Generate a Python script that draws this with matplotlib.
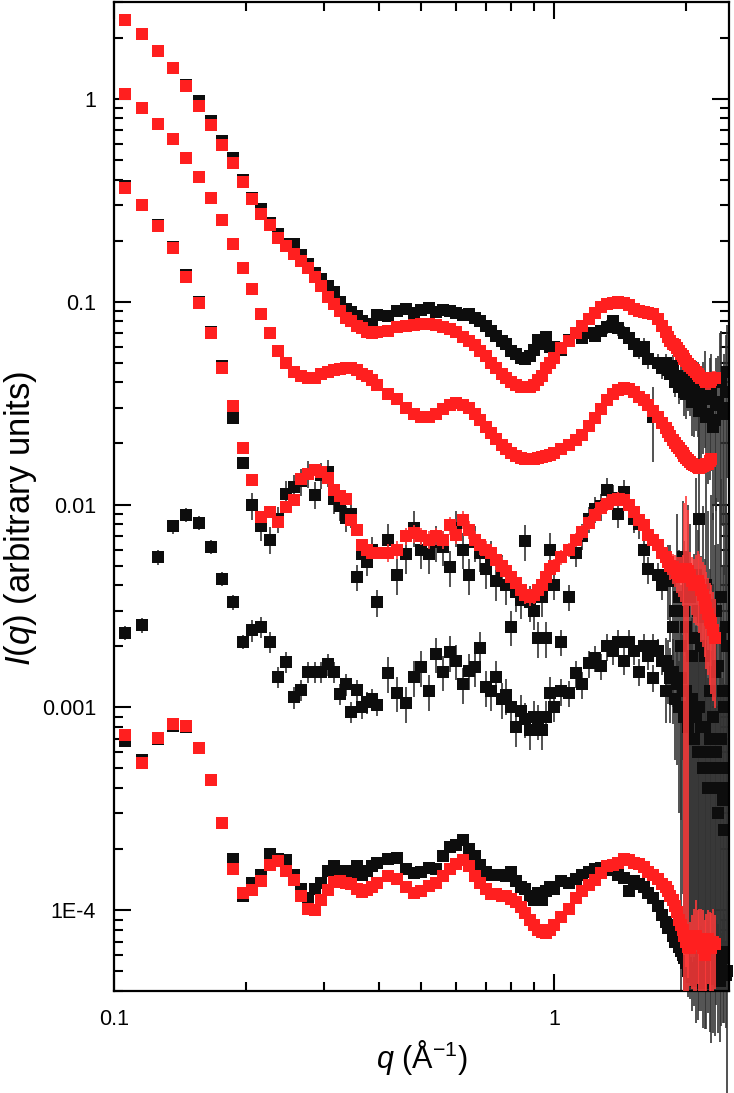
import matplotlib
matplotlib.use('Agg')

import matplotlib.pyplot as plt
import matplotlib.ticker as mticker
import numpy as np

plt.rcParams['font.family'] = ['Liberation Sans', 'DejaVu Sans']
plt.rcParams['mathtext.fontset'] = 'custom'
plt.rcParams['mathtext.rm'] = 'Liberation Sans'
plt.rcParams['mathtext.it'] = 'Liberation Sans:italic'

nan = np.nan

# scattering vector q (1/A), shared by all curves
q = [0.106, 0.116, 0.126, 0.136, 0.146, 0.156, 0.166, 0.176, 0.186, 0.196,
     0.206, 0.216, 0.226, 0.236, 0.246, 0.256, 0.266, 0.276, 0.286, 0.296,
     0.306, 0.316, 0.326, 0.336, 0.346, 0.356, 0.366, 0.376, 0.386, 0.396,
     0.42, 0.44, 0.46, 0.48, 0.50, 0.52, 0.54, 0.56, 0.58, 0.60,
     0.62, 0.64, 0.66, 0.68, 0.70, 0.72, 0.74, 0.76, 0.78, 0.80,
     0.82, 0.84, 0.86, 0.88, 0.90, 0.92, 0.94, 0.96, 0.98,
     1.00, 1.04, 1.08, 1.12, 1.16, 1.20, 1.24, 1.28, 1.32, 1.36,
     1.40, 1.44, 1.48, 1.52, 1.56, 1.60, 1.64, 1.68, 1.72, 1.76,
     1.80, 1.82, 1.84, 1.86, 1.88, 1.90, 1.92, 1.94, 1.96, 1.98,
     2.00, 2.02, 2.04, 2.06, 2.08, 2.10, 2.12, 2.14, 2.16, 2.18,
     2.20, 2.22, 2.24, 2.26, 2.28, 2.30, 2.32, 2.34, 2.36, 2.38,
     2.40, 2.42, 2.44, 2.46, 2.48]

# top pair
top_black = [2.45, 2.08, 1.72, 1.42, 1.17, 0.98, 0.78, 0.62, 0.51, 0.40,
             0.325, 0.287, 0.245, 0.216, 0.193, 0.193, 0.169, 0.154, 0.139, 0.130,
             0.120, 0.111, 0.100, 0.092, 0.089, 0.085, 0.080, 0.078, 0.078, 0.086,
             0.085, 0.090, 0.092, 0.088, 0.091, 0.093, 0.089, 0.091, 0.090, 0.088,
             0.086, 0.087, 0.083, 0.080, 0.076, 0.072, 0.068, 0.064, 0.062, 0.057,
             0.055, 0.053, 0.052, 0.054, 0.058, 0.065, 0.062, 0.067, 0.060,
             0.060, 0.058, 0.065, 0.070, 0.066, 0.070, 0.068, 0.072, 0.075, 0.080,
             0.074, 0.070, 0.066, 0.062, 0.057, 0.060, 0.052, 0.027, 0.050, 0.047,
             0.050, 0.046, 0.044, 0.048, 0.040, 0.043, 0.038, 0.041, 0.042, 0.036,
             0.035, 0.040, 0.039, 0.032, 0.033, 0.037, 0.036, 0.029, 0.030, 0.034,
             0.038, 0.027, 0.028, 0.033, 0.035, 0.024, 0.026, 0.031, 0.032, 0.040,
             0.040, 0.028, 0.030, 0.036, 0.045]
top_red = [2.45, 2.09, 1.72, 1.42, 1.15, 0.92, 0.74, 0.59, 0.48, 0.39,
           0.32, 0.27, 0.24, 0.207, 0.187, 0.172, 0.159, 0.146, 0.133, 0.120,
           0.105, 0.097, 0.090, 0.083, 0.080, 0.076, 0.074, 0.071, 0.070, 0.071,
           0.072, 0.075, 0.076, 0.077, 0.078, 0.078, 0.077, 0.075, 0.073, 0.071,
           0.067, 0.064, 0.061, 0.057, 0.054, 0.050, 0.047, 0.044, 0.042, 0.040,
           0.039, 0.038, 0.038, 0.038, 0.039, 0.041, 0.043, 0.047, 0.050,
           0.053, 0.059, 0.064, 0.070, 0.076, 0.082, 0.088, 0.094, 0.097, 0.099,
           0.100, 0.099, 0.096, 0.092, 0.090, 0.089, 0.088, 0.087, 0.082, 0.076,
           0.071, 0.067, 0.064, 0.062, 0.061, 0.059, 0.057, 0.055, 0.054, 0.052,
           0.051, 0.049, 0.048, 0.047, 0.046, 0.045, 0.044, 0.043, 0.042, 0.042,
           0.041, 0.040, 0.040, 0.040, 0.041, 0.042, 0.042, nan, nan, nan,
           nan, nan, nan, nan, nan]

# second curve (red only)
second_red = [1.06, 0.90, 0.75, 0.635, 0.51, 0.41, 0.325, 0.253, 0.193, 0.147,
              0.116, 0.087, 0.070, 0.057, 0.050, 0.045, 0.043, 0.042, 0.042, 0.044,
              0.045, 0.046, 0.0465, 0.047, 0.047, 0.046, 0.044, 0.043, 0.041, 0.039,
              0.035, 0.033, 0.030, 0.028, 0.027, 0.027, 0.028, 0.0295, 0.031, 0.0317,
              0.031, 0.030, 0.028, 0.026, 0.024, 0.0225, 0.021, 0.0196, 0.0187, 0.0179,
              0.0173, 0.0169, 0.0167, 0.0167, 0.0167, 0.0169, 0.0171, 0.0173, 0.0175,
              0.0179, 0.0187, 0.0196, 0.0207, 0.022, 0.0243, 0.0266, 0.0295, 0.0327, 0.035,
              0.0366, 0.0374, 0.037, 0.0357, 0.034, 0.0327, 0.031, 0.029, 0.027, 0.0253,
              0.0237, 0.0227, 0.0217, 0.0209, 0.0202, 0.0195, 0.0189, 0.0184, 0.0179, 0.0174,
              0.0169, 0.0165, 0.0162, 0.0159, 0.0156, 0.0154, 0.0153, 0.0152, 0.0153, 0.0154,
              0.0156, 0.0158, 0.0159, 0.0163, 0.0167, nan, nan, nan, nan, nan,
              nan, nan, nan, nan, nan]

# third pair
third_black = [0.37, 0.30, 0.24, 0.185, 0.136, 0.10, 0.071, 0.048, 0.0268, 0.0161,
               0.0099, 0.0078, 0.0067, 0.0085, 0.0113, 0.0122, 0.0130, 0.0142, 0.0112, 0.0140,
               0.0144, 0.0106, 0.0098, 0.0086, 0.0090, 0.0044, 0.0057, 0.0052, 0.0060, 0.0033,
               0.0067, 0.0045, 0.0057, 0.0077, 0.0060, 0.0057, 0.0065, 0.0062, 0.0049, 0.0077,
               0.0060, 0.0045, 0.0065, 0.0058, 0.0048, 0.0055, 0.0042, 0.0047, 0.0040, 0.0025,
               0.0037, 0.0034, 0.0066, 0.0033, 0.0030, 0.0022, 0.0035, 0.0022, 0.0060,
               0.0040, 0.0021, 0.0035, 0.0058, 0.0070, 0.0085, 0.0095, 0.0098, 0.0118, 0.0108,
               0.0090, 0.0115, 0.0100, 0.0085, 0.0080, 0.0060, 0.0048, 0.0020, 0.0045, 0.0040,
               0.0017, 0.0045, 0.0042, 0.0025, 0.0030, 0.0050, 0.0035, 0.0020, 0.0055, 0.0030,
               0.0025, 0.0040, 0.0035, 0.0018, 0.0022, 0.0045, 0.0030, 0.0085, 0.0020, 0.0028,
               0.0018, 0.0040, 0.0028, 0.0012, 0.0032, 0.0024, 0.0015, 0.0030, 0.0016, 0.0022,
               0.0035, 0.0012, 0.0010, 0.0025, 0.0020]
third_red = [0.365, 0.30, 0.237, 0.183, 0.133, 0.098, 0.070, 0.047, 0.0305, 0.0189,
             0.0132, 0.0087, 0.0092, 0.0082, 0.0097, 0.0105, 0.0133, 0.0142, 0.0148, 0.0144,
             0.0135, 0.0118, 0.011, 0.0107, 0.0084, 0.0075, 0.0063, 0.0060, 0.0058, 0.0058,
             0.0058, 0.0060, 0.0070, 0.0072, 0.0070, 0.0067, 0.0070, 0.0067, 0.0079, 0.0071,
             0.0084, 0.0075, 0.0067, 0.0063, 0.0060, 0.0058, 0.0053, 0.0050, 0.0047, 0.0044,
             0.0041, 0.0038, 0.0036, 0.0035, 0.0036, 0.0038, 0.0040, 0.0044, 0.0048,
             0.0050, 0.0055, 0.0060, 0.0067, 0.0073, 0.0081, 0.0089, 0.0096, 0.0101, 0.0105,
             0.0107, 0.0105, 0.0099, 0.0092, 0.0084, 0.0079, 0.0071, 0.0067, 0.0063, 0.0058,
             0.0055, 0.0052, 0.0050, 0.0049, 0.0048, 0.0046, 0.0045, 0.0044, 0.0044, 0.0046,
             0.0048, 0.0047, 0.0045, 0.0042, 0.0040, 0.0041, 0.0042, 0.0040, 0.0038, 0.0036,
             0.0034, 0.0031, 0.0029, 0.0027, 0.0026, 0.0024, 0.0022, nan, nan, nan,
             nan, nan, nan, nan, nan]

# fourth curve (black only)
fourth_black = [0.00234, 0.00254, 0.0055, 0.0078, 0.0089, 0.0081, 0.0062, 0.0043, 0.0033, 0.0021,
                0.0024, 0.0025, 0.0021, 0.00142, 0.00168, 0.00112, 0.00122, 0.0015, 0.0015, 0.0015,
                0.00163, 0.0015, 0.00117, 0.0013, 0.00095, 0.00122, 0.0010, 0.00106, 0.0011, 0.00103,
                0.00147, 0.00118, 0.00105, 0.00141, 0.00158, 0.0012, 0.00184, 0.0015, 0.00187, 0.0017,
                0.0013, 0.00152, 0.00158, 0.00197, 0.00126, 0.0012, 0.00141, 0.0011, 0.00115, 0.0010,
                0.0008, 0.00096, 0.00088, 0.00077, 0.0009, 0.00086, 0.00077, 0.0009, 0.00118,
                0.0010, 0.0012, 0.00118, 0.00147, 0.0013, 0.00165, 0.00175, 0.0016, 0.0020, 0.0019,
                0.0021, 0.0017, 0.0021, 0.0019, 0.0015, 0.0020, 0.0018, 0.0014, 0.0019, 0.0017,
                0.0012, 0.0016, 0.0014, 0.0015, 0.0011, 0.0013, 0.0010, 0.0014, 0.0012, 0.0009,
                0.0012, 0.0008, 0.0010, 0.0011, 0.0007, 0.0009, 0.0006, 0.0010, 0.0008, 0.0005,
                0.0008, 0.0006, 0.0004, 0.0007, 0.0005, 0.0009, 0.0004, 0.0006, 0.0003, 0.0005,
                0.0007, 0.00035, 0.00025, 0.0005, 0.0004]

# bottom pair
bottom_black = [0.00068, 0.00055, 0.00070, 0.00081, 0.00080, 0.00063, 0.00044, 0.00027, 0.000178, 0.000118,
                0.000136, 0.000150, 0.000190, 0.000178, 0.000176, 0.000150, 0.000128, 0.000115, 0.000128, 0.000136,
                0.000157, 0.000165, 0.000150, 0.000157, 0.000150, 0.000165, 0.000150, 0.000157, 0.000165, 0.000172,
                0.000179, 0.000182, 0.000160, 0.000152, 0.000155, 0.000162, 0.000160, 0.000185, 0.000205, 0.000210,
                0.000222, 0.000200, 0.000185, 0.000168, 0.000155, 0.000150, 0.000150, 0.000150, 0.000148, 0.000155,
                0.000140, 0.000130, 0.000128, 0.000118, 0.000112, 0.000122, 0.000112, 0.000125, 0.000130,
                0.000128, 0.000140, 0.000137, 0.000142, 0.000150, 0.000155, 0.000160, 0.000162, 0.000165, 0.000158,
                0.000150, 0.000145, 0.000125, 0.000140, 0.000135, 0.000130, 0.000122, 0.000115, 0.000105, 0.000095,
                0.000088, 0.000082, 0.000085, 0.000075, 0.000070, 0.000072, 0.000066, 0.000063, 0.000060, 0.000058,
                0.000055, 0.000050, 0.000052, 0.000047, 0.000052, 0.000045, 0.000048, 0.000055, 0.000058, 0.000044,
                0.000047, 0.000052, 0.000060, 0.000050, 0.000046, 0.000055, 0.000048, 0.000062, 0.000055, 0.000045,
                0.000052, 0.000058, 0.000062, 0.000048, 0.000050]
bottom_red = [0.00073, 0.00053, 0.00071, 0.00083, 0.00081, 0.00063, 0.00044, 0.00027, 0.000160, 0.000122,
              0.000126, 0.000140, 0.000167, 0.000175, 0.000157, 0.000141, 0.000118, 0.000101, 0.000100, 0.000112,
              0.000126, 0.000138, 0.000139, 0.000136, 0.000135, 0.000128, 0.000123, 0.000126, 0.000130, 0.000137,
              0.000148, 0.000142, 0.000130, 0.000122, 0.000125, 0.000131, 0.000137, 0.000147, 0.000160, 0.000170,
              0.000176, 0.000165, 0.000148, 0.000137, 0.000127, 0.000120, 0.000120, 0.000118, 0.000118, 0.000114,
              0.000110, 0.000104, 0.000097, 0.000090, 0.000085, 0.000080, 0.000078, 0.000077, 0.000080,
              0.000085, 0.000093, 0.000102, 0.000115, 0.000125, 0.000133, 0.000141, 0.000152, 0.000165, 0.000168,
              0.000172, 0.000178, 0.000177, 0.000172, 0.000170, 0.000163, 0.000155, 0.000150, 0.000142, 0.000135,
              0.000130, 0.000124, 0.000118, 0.000112, 0.000105, 0.000098, 0.000090, 0.000085, 0.000080, 0.000075,
              0.000070, 0.000066, 0.000065, 0.000068, 0.000070, 0.000075, 0.000072, 0.000070, 0.000068, 0.000065,
              0.000060, 0.000066, 0.000072, 0.000068, 0.000065, 0.000070, 0.000068, nan, nan, nan,
              nan, nan, nan, nan, nan]

# relative error bars in percent (30 pts < 0.4, 29 pts to 0.98, 20 pts to 1.76, 35 pts above)
err_top_black = [1] * 30 + [5] * 29 + [5, 5, 6, 6, 6, 6, 7, 7, 8, 8, 8, 8, 8, 9, 9, 10, 10, 40, 10, 12] + \
                [10, 11, 12, 14, 15, 16, 18, 20, 22, 24, 25, 28, 30, 32, 35, 38, 40, 42, 45, 48,
                 50, 45, 55, 60, 58, 65, 62, 70, 68, 75, 80, 72, 85, 90, 70]
err_top_red = [1] * 30 + [2] * 29 + [3] * 20 + [4] * 10 + [6] * 10 + [8] * 7 + [0] * 8
err_second_red = [1] * 114
err_third_black = [3] * 10 + [15] * 20 + [20] * 29 + [15] * 20 + \
                  [30, 40, 50, 60, 45, 80, 70, 100, 90, 120, 110, 150, 130, 180, 160, 200, 150, 220, 180, 250,
                   200, 260, 230, 300, 250, 280, 320, 260, 300, 350, 280, 320, 400, 300, 350]
err_third_red = [1] * 10 + [6] * 20 + [10] * 29 + [8] * 20 + \
                [12, 14, 15, 17, 18, 20, 22, 25, 28, 120, 130, 100, 30, 32, 35, 38, 40, 42, 45, 45,
                 48, 50, 50, 52, 55, 55, 55] + [0] * 8
err_fourth_black = [8] * 10 + [12] * 20 + [20] * 29 + [15] * 20 + \
                   [30, 35, 40, 45, 50, 60, 70, 80, 90, 100, 110, 120, 130, 150, 160, 180, 200, 220, 240, 260,
                    280, 300, 250, 320, 280, 350, 300, 380, 320, 400, 350, 300, 420, 380, 400]
err_bottom_black = [2] * 30 + [4] * 29 + [5] * 20 + \
                   [8, 9, 10, 11, 12, 14, 15, 16, 18, 20, 22, 25, 30, 32, 35, 38, 40, 42, 45, 40,
                    45, 50, 48, 50, 52, 55, 50, 45, 55, 50, 48, 52, 55, 45, 150]
err_bottom_red = [2] * 59 + [3] * 20 + \
                 [5, 6, 7, 8, 9, 10, 12, 15, 18, 20, 25, 30, 35, 40, 45, 50, 40, 45, 50, 55,
                  50, 45, 40, 45, 50, 45, 40] + [0] * 8

BLACK = '#0d0d0d'
RED = '#ff1f1f'

fig = plt.figure(figsize=(7.34, 10.93), dpi=100)
ax = fig.add_axes([0.1553, 0.0933, 0.8379, 0.9049])
ax.set_xscale('log')
ax.set_yscale('log')

qa = np.array(q)


def draw(vals, err, color, ecolor, z, clip=True):
    y = np.array(vals, dtype=float)
    e = y * np.array(err, dtype=float) / 100.0
    cont = ax.errorbar(qa, y, yerr=e, fmt='s', ms=8.2, mew=0, color=color,
                       ecolor=ecolor, elinewidth=1.2, capsize=3.8, capthick=1.2,
                       zorder=z)
    if not clip:
        for art in cont.get_children():
            art.set_clip_on(False)


draw(top_black, err_top_black, BLACK, '#333333', 2)
draw(third_black, err_third_black, BLACK, '#333333', 2)
draw(fourth_black, err_fourth_black, BLACK, '#333333', 2)
draw(bottom_black, err_bottom_black, BLACK, '#333333', 2, clip=False)
draw(top_red, err_top_red, RED, '#ff3a3a', 3)
draw(second_red, err_second_red, RED, '#ff3a3a', 3)
draw(third_red, err_third_red, RED, '#ff3a3a', 3)
draw(bottom_red, err_bottom_red, RED, '#ff3a3a', 3)

ax.set_xlim(0.1, 2.5)
ax.set_ylim(4e-5, 3.0)

ax.xaxis.set_major_locator(mticker.FixedLocator([0.1, 1]))
ax.xaxis.set_major_formatter(mticker.FixedFormatter(['0.1', '1']))
ax.xaxis.set_minor_locator(mticker.LogLocator(base=10, subs=np.arange(2, 10), numticks=20))
ax.xaxis.set_minor_formatter(mticker.NullFormatter())
ax.yaxis.set_major_locator(mticker.FixedLocator([1e-4, 1e-3, 1e-2, 1e-1, 1]))
ax.yaxis.set_major_formatter(mticker.FixedFormatter(['1E-4', '0.001', '0.01', '0.1', '1']))
ax.yaxis.set_minor_locator(mticker.LogLocator(base=10, subs=np.arange(2, 10), numticks=20))
ax.yaxis.set_minor_formatter(mticker.NullFormatter())

ax.tick_params(which='both', direction='in', top=True, right=True, width=1.5, labelsize=15.5)
ax.tick_params(which='major', length=12, pad=13)
ax.tick_params(which='minor', length=6.5)
for s in ax.spines.values():
    s.set_linewidth(1.6)

ax.set_xlabel(r'$q$ (Å$^{-1}$)', fontsize=22)
ax.set_ylabel(r'$I$($q$) (arbitrary units)', fontsize=25)
ax.xaxis.set_label_coords(0.5, -0.047)
ax.yaxis.set_label_coords(-0.122, 0.478)

fig.savefig('out.png', dpi=100)
